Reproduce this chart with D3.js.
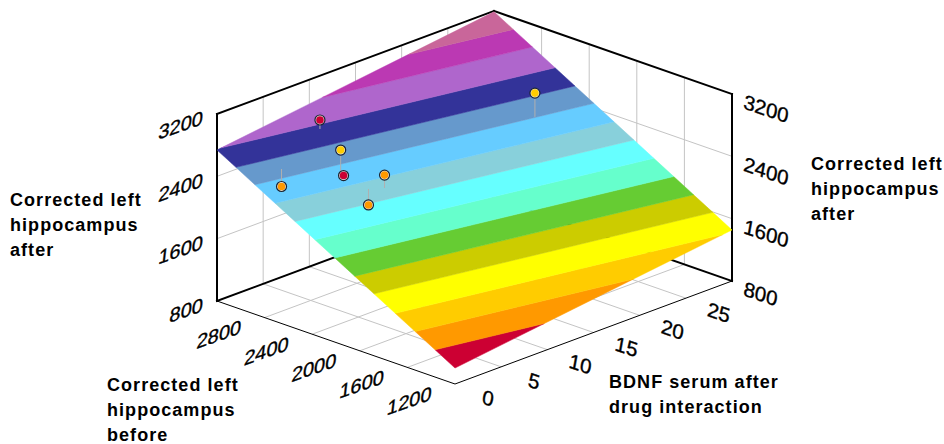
<!DOCTYPE html>
<html><head><meta charset="utf-8">
<script src="https://cdn.jsdelivr.net/npm/d3@7"></script>
<style>html,body{margin:0;background:#fff}svg{display:block}</style></head>
<body><svg id="c" width="944" height="444"></svg>
<script>
// ---- data ----
const xTicks = [0,5,10,15,20,25];
const yTicks = [1200,1600,2000,2400,2800];
const zTicks = [800,1600,2400,3200];
const xDomain = [0,30], yDomain = [800,2800], zDomain = [800,3200];
// regression surface: z at corners (x,y)
const surfaceX = [0,30,30,0];
const surfaceY = [800,800,2800,2800];
const surfaceZ = [1005,1455,3190,2738];
const bandLevels = [1150,1295,1440,1595,1735,1880,2025,2170,2315,2462,2600,2745,2910,3050];
const bandColors = ["#CC0033","#FF9900","#FFCC00","#FFFF00","#CCCC00","#66CC33","#66FFCC","#66FFFF","#88D0DB","#66CCFF","#6699CC","#333399","#AF66CC","#BB39B3","#C9669A"];
const pointX = [8.83,6.99,6.81,8.84,7.64,3.07,24.83];
const pointY = [2620,2303,2265,2078,2120,2496,2055];
const pointZ = [2830,2694,2395,2411,2058,2296,2771];
const pointColors = ["#CC0033","#FFCC00","#CC0033","#FF9900","#FF9900","#FF9900","#FFCC00"];
const titleZ = ["Corrected left","hippocampus","after"];
const titleY = ["Corrected left","hippocampus","before"];
const titleX = ["BDNF serum after","drug interaction"];

// ---- scales: oblique projection built from three linear scales per screen axis ----
const front=[455,384], xVec=[277,-103], yVec=[-238,-83], zH=187;
const ux=d3.scaleLinear().domain(xDomain).range([0,1]);
const uy=d3.scaleLinear().domain(yDomain).range([0,1]);
const uz=d3.scaleLinear().domain(zDomain).range([0,1]);
const P=(x,y,z)=>[front[0]+ux(x)*xVec[0]+uy(y)*yVec[0],
                  front[1]+ux(x)*xVec[1]+uy(y)*yVec[1]-uz(z)*zH];
const [x0,x1]=xDomain,[y0,y1]=yDomain,[z0,z1]=zDomain;
const svg=d3.select("#c");
const seg=(g,rows,cls)=>g.selectAll("line."+cls).data(rows).join("line").attr("class",cls)
  .attr("x1",d=>d[0][0]).attr("y1",d=>d[0][1]).attr("x2",d=>d[1][0]).attr("y2",d=>d[1][1]);

// grid
const grid=svg.append("g").attr("stroke","#c4c4c4").attr("stroke-width",1).attr("fill","none");
const xg=[...xTicks.slice(1)], yg=[...yTicks.slice(0)];
seg(grid,[
  ...xg.map(x=>[P(x,y0,z0),P(x,y1,z0)]),
  ...yg.map(y=>[P(x0,y,z0),P(x1,y,z0)]),
  ...xg.map(x=>[P(x,y1,z0),P(x,y1,z1)]),
  ...yg.slice(0,-1).map(y=>[P(x1,y,z0),P(x1,y,z1)]),
  ...zTicks.slice(1,-1).flatMap(z=>[[P(x0,y1,z),P(x1,y1,z)],[P(x1,y1,z),P(x1,y0,z)]])
],"g");

// heavy frame
const frame=svg.append("g").attr("stroke","#000").attr("stroke-width",2).attr("fill","none").attr("stroke-linecap","square");
seg(frame,[
  [P(x0,y1,z0),P(x0,y1,z1)],[P(x0,y1,z1),P(x1,y1,z1)],[P(x1,y1,z1),P(x1,y0,z1)],
  [P(x1,y0,z1),P(x1,y0,z0)],[P(x0,y1,z0),P(x1,y1,z0)],[P(x1,y1,z0),P(x1,y0,z0)]
],"f");
const thin=svg.append("g").attr("stroke","#000").attr("stroke-width",1).attr("fill","none");
seg(thin,[[P(x0,y1,z0),P(x0,y0,z0)],[P(x0,y0,z0),P(x1,y0,z0)]],"t");

// surface bands: clip the surface quad between successive contour levels
const quad=surfaceX.map((x,i)=>[x,surfaceY[i],surfaceZ[i]]);
function clip(poly,level,keepAbove){
  const out=[];
  poly.forEach((a,i)=>{
    const b=poly[(i+1)%poly.length];
    const ia=keepAbove?a[2]>=level:a[2]<=level, ib=keepAbove?b[2]>=level:b[2]<=level;
    if(ia) out.push(a);
    if(ia!==ib){const t=(level-a[2])/(b[2]-a[2]);out.push([a[0]+t*(b[0]-a[0]),a[1]+t*(b[1]-a[1]),level]);}
  });
  return out;
}
const edges=[-Infinity,...bandLevels,Infinity];
const bands=bandColors.map((c,i)=>{
  let p=quad;
  if(isFinite(edges[i])) p=clip(p,edges[i],true);
  if(isFinite(edges[i+1])) p=clip(p,edges[i+1],false);
  return {c,p};
});
const line=d3.line().curve(d3.curveLinearClosed);
svg.append("g").selectAll("path").data(bands).join("path")
  .attr("d",d=>line(d.p.map(q=>P(q[0],q[1],q[2])))).attr("fill",d=>d.c).attr("stroke",d=>d.c).attr("stroke-width",0.5);

// plane height at a data position, from the corner values
const planeAt=(x,y)=>{const u=ux(x),v=uy(y);
  return surfaceZ[0]*(1-u)*(1-v)+surfaceZ[1]*u*(1-v)+surfaceZ[2]*u*v+surfaceZ[3]*(1-u)*v;};
const pts=pointX.map((x,i)=>({x,y:pointY[i],z:pointZ[i],c:pointColors[i]}));
seg(svg.append("g").attr("stroke","#b0b0b0").attr("stroke-width",1),
  pts.map(d=>[P(d.x,d.y,d.z),P(d.x,d.y,planeAt(d.x,d.y))]),"s");
const pg=svg.append("g");
pg.selectAll("circle.o").data(pts).join("circle").attr("class","o")
  .attr("cx",d=>P(d.x,d.y,d.z)[0]).attr("cy",d=>P(d.x,d.y,d.z)[1]).attr("r",5)
  .attr("fill","#e8e8e8").attr("stroke","#1c2430").attr("stroke-width",1.2);
pg.selectAll("circle.i").data(pts).join("circle").attr("class","i")
  .attr("cx",d=>P(d.x,d.y,d.z)[0]).attr("cy",d=>P(d.x,d.y,d.z)[1]).attr("r",3.8)
  .attr("fill",d=>d.c);

// tick labels
const tickFont="Liberation Sans, Arial, sans-serif";
function labels(rows,m,anchor){
  svg.append("g").selectAll("text").data(rows).join("text")
    .attr("transform",d=>`matrix(${m[0]},${m[1]},${m[2]},${m[3]},${d.p[0]},${d.p[1]})`)
    .attr("text-anchor",anchor).attr("dominant-baseline","central")
    .attr("font-family",tickFont).attr("font-size",20).attr("fill","#000")
    .attr("stroke","#000").attr("stroke-width",0.35).text(d=>d.t);
}
const down=[1,0.34,-0.18,1], up=[1,-0.35,-0.12,1];
const off=(p,dx,dy)=>[p[0]+dx,p[1]+dy];
labels(xTicks.map(t=>({t,p:off(P(t,y0,z0),33,14)})),down,"middle");
labels(yTicks.map(t=>({t,p:off(P(x0,t,z0),2,33)})),up,"middle");
labels(zTicks.map(t=>({t,p:off(P(x0,y1,t),-14,3)})),up,"end");
labels(zTicks.map(t=>({t,p:off(P(x1,y0,t),12,7)})),down,"start");

// axis titles
function title(lines,x,y){
  svg.append("g").selectAll("text").data(lines).join("text")
    .attr("x",x).attr("y",(d,i)=>y+i*25).attr("font-family",tickFont).attr("font-weight","bold")
    .attr("font-size",18).attr("letter-spacing",1.05).attr("fill","#000").text(d=>d);
}
title(titleZ,10,206);
title(titleZ,811,170);
title(titleY,107,391);
title(titleX,609,388);
</script></body></html>
